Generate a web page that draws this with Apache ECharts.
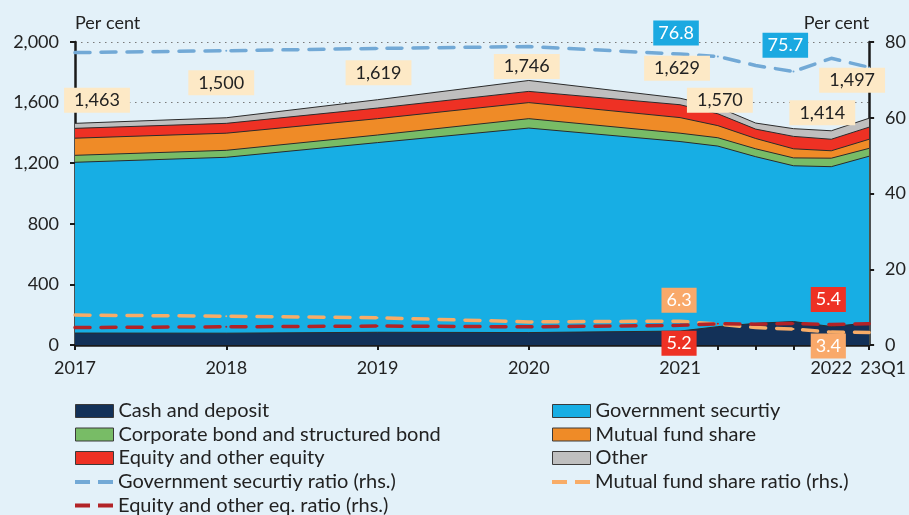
<!DOCTYPE html>
<html>
<head>
<meta charset="utf-8">
<title>Holdings by instrument</title>
<script src="https://cdn.jsdelivr.net/npm/echarts@6/dist/echarts.min.js"></script>
<style>
html,body{margin:0;padding:0;background:#e3f1f9;}
#chart{width:909px;height:515px;}
</style>
</head>
<body>
<div id="chart"></div>
<script>
// periods: year-end 2017..2021, then quarters up to 23Q1
var periods=['2017','2018','2019','2020','2021','22Q1','22Q2','22Q3','2022','23Q1'];
// quarters counted from end of 2017 (x value of each period)
var quarterIndex=[0,4,8,12,16,17,18,19,20,21];
var axisLabelText={0:'2017',4:'2018',8:'2019',12:'2020',16:'2021',20:'2022',21:'23Q1'};

var cash=[79,78,84,82,92,121,143,155,122,146];
var govSec=[1127,1161,1252,1350,1251,1192,1100,1028,1055,1100];
var corpBond=[46,46,50,62,55,55,52,52,56,52];
var mutualFund=[113,113,108,106,103,80,68,60,49,60];
var equity=[65,65,70,74,85,78,62,82,76,80];
var other=[33,37,55,72,43,44,40,51,56,59];
var totals=[1463,1500,1619,1746,1629,1570,null,null,1414,1497];

var govRatio=[77.2,77.7,78.3,78.8,76.8,76.2,73.8,72.2,75.7,73.3];
var mutualRatio=[7.9,7.6,7.2,6.1,6.3,5.5,4.6,4.2,3.4,3.3];
var equityRatio=[4.6,4.8,5.0,4.8,5.2,5.6,5.5,5.7,5.4,5.6];

// label placement (px offsets from the point)
var totalLabelOffset={'2017':[22,-23],'2018':[-5,-35],'2019':[1,-27],'2020':[-2,-14],'2021':[-3,-30],'22Q1':[2,-7],'2022':[-9,-18],'23Q1':[-17,-38]};
var govLabelOffset={'2021':[-4,-21],'2022':[-46,-13]};
var mutualLabelOffset={'2021':[-1,-21],'2022':[-3,14]};
var equityLabelOffset={'2021':[-1,18],'2022':[-3,-25]};

var FONT='Lato';
var TXT='#222';
var AXIS='#1a1a1a';
var dashIcon='path://M0,0H15V4H0Z M23,0H38V4H23Z';

var myChart=echarts.init(document.getElementById('chart'));

// layers bottom -> top; stacking is done here because the x axis is numeric
var layers=[
	{name:'Cash and deposit',values:cash,color:'#133158'},
	{name:'Government securtiy',values:govSec,color:'#17aee4'},
	{name:'Corporate bond and structured bond',values:corpBond,color:'#78bc66'},
	{name:'Mutual fund share',values:mutualFund,color:'#ef8b27'},
	{name:'Equity and other equity',values:equity,color:'#ee3124'},
	{name:'Other',values:other,color:'#bfbfbf'}
];
var running=periods.map(function(){return 0;});
layers.forEach(function(l){
	l.top=l.values.map(function(v,i){running[i]+=v;return running[i];});
});

var colors={
	'Government securtiy ratio (rhs.)':'#72a9d6',
	'Mutual fund share ratio (rhs.)':'#f8ac67',
	'Equity and other eq. ratio (rhs.)':'#b22327'
};
layers.forEach(function(l){colors[l.name]=l.color;});

function areaSeries(l){
	return {
		name:l.name,type:'line',symbol:'none',z:2,
		data:l.top.map(function(v,i){return [quarterIndex[i],v];}),
		lineStyle:{color:'#2b2b2b',width:1},
		areaStyle:{color:l.color,opacity:1},
		itemStyle:{color:l.color},
		emphasis:{disabled:true}
	};
}
function ratioSeries(name,values,offsets,bg){
	var color=colors[name];
	return {
		name:name,type:'line',yAxisIndex:1,symbol:'circle',symbolSize:2,showSymbol:true,z:3,
		color:color,
		lineStyle:{color:color,width:3.5,type:[15,11],cap:'round'},
		itemStyle:{color:color},
		emphasis:{disabled:true},
		data:values.map(function(v,i){
			var item={value:[quarterIndex[i],v]};
			var off=offsets[periods[i]];
			if(off){
				item.label={show:true,position:'inside',offset:off,formatter:function(p){return p.value[1].toFixed(1);},
					backgroundColor:bg,color:'#fff',fontSize:18,lineHeight:20,padding:[3,5,2,5],fontFamily:FONT};
			}
			return item;
		})
	};
}
function totalSeries(){
	var d=[];
	for(var i=0;i<periods.length;i++){
		if(totals[i]==null) continue;
		d.push({value:[quarterIndex[i],totals[i]],label:{show:true,position:'inside',offset:totalLabelOffset[periods[i]]}});
	}
	return {
		name:'Total',type:'line',symbol:'circle',symbolSize:2,showSymbol:true,z:4,
		itemStyle:{color:'rgba(0,0,0,0)'},lineStyle:{width:0,opacity:0},
		emphasis:{disabled:true},
		label:{formatter:function(p){return p.value[1].toLocaleString('en-US');},
			backgroundColor:'#fde9c6',color:TXT,fontSize:18,lineHeight:20,padding:[3,10,2,10],fontFamily:FONT},
		data:d
	};
}

function areaLegend(names){
	return names.map(function(n){return {name:n,itemStyle:{color:colors[n],borderColor:'#3a3a3a',borderWidth:1,opacity:1}};});
}
function lineLegend(names){
	return names.map(function(n){return {name:n,itemStyle:{color:colors[n],borderWidth:0,opacity:1}};});
}
function legendBox(left,top,icon,h,data){
	return {left:left,top:top,height:120,padding:0,orient:'vertical',align:'left',icon:icon,itemWidth:38,itemHeight:h,itemGap:3.5,
		selectedMode:false,textStyle:{color:TXT,fontSize:20,lineHeight:20,fontFamily:FONT},data:data};
}

var series=[];
// top layer first so lower layers paint over it
for(var k=layers.length-1;k>=0;k--){ series.push(areaSeries(layers[k])); }
series.push(ratioSeries('Government securtiy ratio (rhs.)',govRatio,govLabelOffset,'#1ba9e1'));
series.push(ratioSeries('Mutual fund share ratio (rhs.)',mutualRatio,mutualLabelOffset,'#f9a96a'));
series.push(ratioSeries('Equity and other eq. ratio (rhs.)',equityRatio,equityLabelOffset,'#ee3124'));
series.push(totalSeries());

var option={
	animation:false,
	backgroundColor:'#e3f1f9',
	textStyle:{fontFamily:FONT},
	grid:{left:75,right:39,top:42,bottom:170},
	legend:[
		legendBox(75,401,'rect',13,areaLegend(['Cash and deposit','Corporate bond and structured bond','Equity and other equity'])),
		legendBox(75,472,dashIcon,4,lineLegend(['Government securtiy ratio (rhs.)','Equity and other eq. ratio (rhs.)'])),
		legendBox(552,401,'rect',13,areaLegend(['Government securtiy','Mutual fund share','Other'])),
		legendBox(552,472,dashIcon,4,lineLegend(['Mutual fund share ratio (rhs.)']))
	],
	xAxis:{
		type:'value',min:0,max:21,interval:1,
		axisLine:{show:true,onZero:false,lineStyle:{color:AXIS,width:2.5}},
		axisTick:{show:true,customValues:quarterIndex,length:5,lineStyle:{color:AXIS,width:2}},
		axisLabel:{customValues:[0,4,8,12,16,20,21],margin:14,fontSize:18,color:TXT,fontFamily:FONT,
			formatter:function(v){return v===21?'{s|23Q1}':(axisLabelText[v]||'');},
			rich:{s:{padding:[0,0,0,28],fontSize:18,color:TXT,fontFamily:FONT}}},
		splitLine:{show:false}
	},
	yAxis:[{
		type:'value',min:0,max:2000,interval:400,position:'left',
		name:'Per cent',nameLocation:'end',nameGap:19,
		nameTextStyle:{align:'left',verticalAlign:'middle',fontSize:18,color:TXT,fontFamily:FONT},
		axisLine:{show:true,lineStyle:{color:AXIS,width:2.5}},
		axisTick:{show:true,length:5,lineStyle:{color:AXIS,width:2}},
		axisLabel:{margin:16,fontSize:18,color:TXT,fontFamily:FONT,formatter:function(v){return v.toLocaleString('en-US');}},
		splitLine:{show:true,lineStyle:{color:'#7a7a7a',width:1,type:[1.5,4.5]}}
	},{
		type:'value',min:0,max:80,interval:20,position:'right',
		name:'Per cent',nameLocation:'end',nameGap:19,
		nameTextStyle:{align:'right',verticalAlign:'middle',fontSize:18,color:TXT,fontFamily:FONT},
		axisLine:{show:true,lineStyle:{color:AXIS,width:2.5}},
		axisTick:{show:true,length:5,lineStyle:{color:AXIS,width:2}},
		axisLabel:{margin:16,fontSize:18,color:TXT,fontFamily:FONT},
		splitLine:{show:false}
	}],
	series:series
};
myChart.setOption(option);
</script>
</body>
</html>
